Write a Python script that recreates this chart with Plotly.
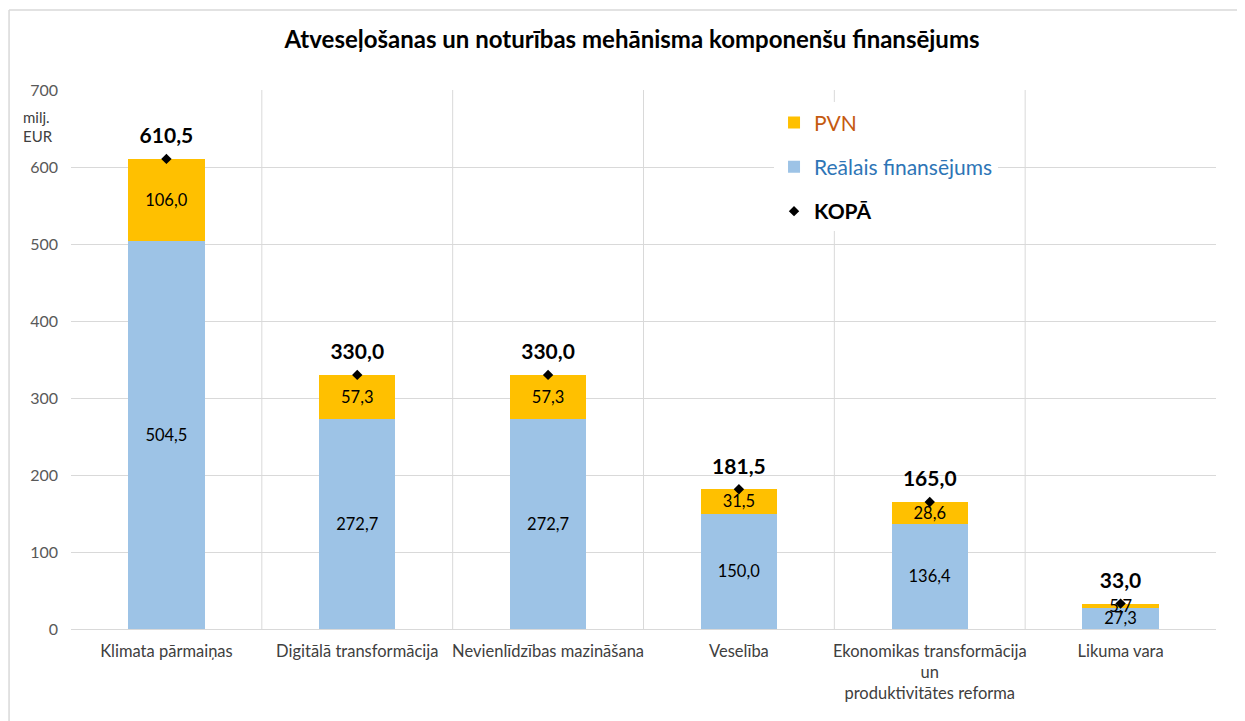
import plotly.graph_objects as go

categories = [
    "Klimata pārmaiņas",
    "Digitālā transformācija",
    "Nevienlīdzības mazināšana",
    "Veselība",
    "Ekonomikas transformācija<br>un<br>produktivitātes reforma",
    "Likuma vara",
]
realais = [504.5, 272.7, 272.7, 150.0, 136.4, 27.3]
pvn = [106.0, 57.3, 57.3, 31.5, 28.6, 5.7]
kopa = [610.5, 330.0, 330.0, 181.5, 165.0, 33.0]
y_ticks = [0, 100, 200, 300, 400, 500, 600, 700]

FONT = "Lato"
GRID = "#D9D9D9"
W, H = 1237, 713

fig = go.Figure()

fig.add_trace(go.Bar(
    x=categories, y=realais,
    name='<span style="color:#2E75B6">Reālais finansējums</span>',
    marker=dict(color="#9DC3E6", line=dict(width=0)),
    texttemplate="%{y:.1f}", textposition="inside", insidetextanchor="middle",
    textangle=0, insidetextfont=dict(family=FONT, size=16.5, color="#000000"),
    legendgroup="r", legendrank=2, hoverinfo="skip",
))
fig.add_trace(go.Bar(
    x=categories, y=pvn,
    name='<span style="color:#C55A11">PVN</span>',
    marker=dict(color="#FFC000", line=dict(width=0)),
    texttemplate="%{y:.1f}", textposition="inside", insidetextanchor="middle",
    textangle=0, insidetextfont=dict(family=FONT, size=16.5, color="#000000"),
    legendgroup="p", legendrank=1, hoverinfo="skip",
))
fig.add_trace(go.Scatter(
    x=categories, y=kopa, mode="markers",
    name="<b>KOPĀ</b>",
    marker=dict(symbol="diamond", size=8, color="#000000"),
    legendgroup="k", legendrank=3, hoverinfo="skip",
))
fig.add_trace(go.Scatter(
    x=categories, y=kopa, mode="markers+text",
    marker=dict(size=15, color="rgba(0,0,0,0)"),
    texttemplate="%{y:.1f}", textposition="top center",
    textfont=dict(family=FONT, size=21, color="#000000", weight="bold"),
    showlegend=False, hoverinfo="skip",
))

shapes = []
for i in range(len(categories) - 1):
    shapes.append(dict(type="line", xref="x", yref="paper", x0=i + 0.5, x1=i + 0.5,
                       y0=0, y1=1, line=dict(color=GRID, width=1), layer="below"))
# outer chart border (left and top edges)
shapes.append(dict(type="line", xref="paper", yref="paper", x0=-0.0541, x1=1.05,
                   y0=1.1484, y1=1.1484, line=dict(color=GRID, width=1.5)))
shapes.append(dict(type="line", xref="paper", yref="paper", x0=-0.0541, x1=-0.0541,
                   y0=1.1484, y1=-0.2, line=dict(color=GRID, width=1.5)))

unit_font = dict(family=FONT, size=15, color="#404040")
fig.update_layout(
    width=W, height=H,
    margin=dict(l=63, r=29, t=82, b=92),
    paper_bgcolor="white", plot_bgcolor="white",
    barmode="stack", bargap=0.6,
    separators=", ",
    font=dict(family=FONT, color="#404040"),
    title=dict(text="<b>Atveseļošanas un noturības mehānisma komponenšu finansējums</b>",
               x=(632 - 8) / W, xanchor="center", y=1 - (40 - 8) / H, yanchor="middle",
               font=dict(family=FONT, size=24, color="#000000")),
    uniformtext=dict(minsize=16.5, mode="show"),
    showlegend=True,
    legend=dict(x=0.614, y=0.977, xanchor="left", yanchor="top",
                bgcolor="white", borderwidth=0,
                font=dict(family=FONT, size=21, color="#000000"),
                traceorder="grouped", tracegroupgap=14),
    shapes=shapes,
    annotations=[
        dict(text="milj.", xref="paper", yref="paper",
             x=(21 - 71) / 1145, y=(629 - 117) / 539, xanchor="left", yanchor="middle",
             showarrow=False, font=unit_font),
        dict(text="EUR", xref="paper", yref="paper",
             x=(21 - 71) / 1145, y=(629 - 136) / 539, xanchor="left", yanchor="middle",
             showarrow=False, font=unit_font),
    ],
)
fig.update_yaxes(range=[0, 700], tickvals=y_ticks, showgrid=True, gridcolor=GRID,
                 gridwidth=1, zeroline=True, zerolinecolor=GRID, zerolinewidth=1,
                 showline=False, ticks="", ticklen=0, ticklabelstandoff=12,
                 tickfont=dict(family=FONT, size=16, color="#595959"))
fig.update_xaxes(showgrid=False, showline=False, ticks="", ticklabelstandoff=10,
                 tickfont=dict(family=FONT, size=16.5, color="#404040"))

fig.write_html("out.html")
